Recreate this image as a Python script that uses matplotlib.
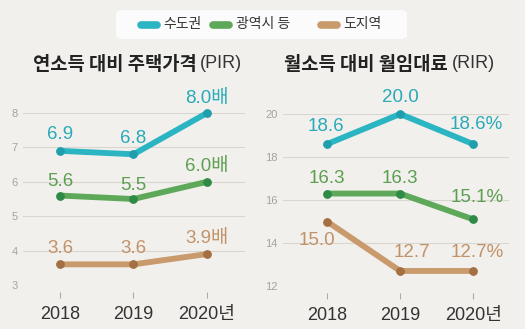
import matplotlib.pyplot as plt
from matplotlib.lines import Line2D
from matplotlib.patches import FancyBboxPatch

# 데이터
years = [2018, 2019, 2020]
year_labels = ['2018', '2019', '2020년']
groups = ['수도권', '광역시 등', '도지역']

pir_capital = [6.9, 6.8, 8.0]
pir_metro = [5.6, 5.5, 6.0]
pir_province = [3.6, 3.6, 3.9]

rir_capital = [18.6, 20.0, 18.6]
rir_metro = [16.3, 16.3, 15.1]
rir_province = [15.0, 12.7, 12.7]

bg = '#f2f0ec'
line_colors = ['#2bb5c3', '#5ea959', '#c89a6c']
dot_colors = ['#1f9eae', '#2f8a47', '#a46f42']
text_colors = ['#28aab8', '#5c9f52', '#c1926a']

num_font = ['Liberation Sans', 'Noto Sans CJK KR']
kr_font = ['Noto Sans CJK KR', 'DejaVu Sans']

W, H = 525, 329
fig = plt.figure(figsize=(W / 100, H / 100), dpi=100)
fig.patch.set_facecolor(bg)


def px(x, y):
    return x / W, 1 - y / H


def make_axes(left, right, top, bottom):
    x0, y0 = px(left, bottom)
    x1, y1 = px(right, top)
    ax = fig.add_axes([x0, y0, x1 - x0, y1 - y0])
    ax.set_facecolor('none')
    for s in ax.spines.values():
        s.set_visible(False)
    ax.spines['bottom'].set_position(('outward', 5))
    ax.grid(axis='y', color='#d9d6d0', linewidth=0.8)
    ax.set_axisbelow(True)
    ax.tick_params(axis='y', length=0, pad=4, labelsize=8, labelcolor='#a3a3a3')
    ax.tick_params(axis='x', length=4, width=0.8, color='#aaaaaa', pad=6,
                   labelsize=13, labelcolor='#333333')
    ax.set_xticks(years)
    ax.set_xticklabels(year_labels, family=num_font)
    return ax


def draw_series(ax, series, labels, offsets):
    for i, vals in enumerate(series):
        ax.plot(years, vals, color=line_colors[i], linewidth=4.2,
                solid_capstyle='round', zorder=3, clip_on=False)
        ax.scatter(years, vals, s=28, color=dot_colors[i], zorder=4, clip_on=False)
        for j, v in enumerate(vals):
            dx, dy = offsets[i][j]
            ax.annotate(labels[i][j], (years[j], v), xytext=(dx * 0.72, dy * 0.72),
                        textcoords='offset points', ha='center', va='center',
                        fontsize=13.5, color=text_colors[i], family=num_font,
                        annotation_clip=False, zorder=5)


# 왼쪽: PIR
ax1 = make_axes(23, 245, 113, 285)
ax1.set_xlim(2017.497, 2020.517)
ax1.set_ylim(3, 8)
ax1.set_yticks([3, 4, 5, 6, 7, 8])
for lab in ax1.get_yticklabels():
    lab.set_family(num_font)
pir_labels = [[f'{v:.1f}' for v in s] for s in (pir_capital, pir_metro, pir_province)]
for s in pir_labels:
    s[-1] += '배'
draw_series(ax1, [pir_capital, pir_metro, pir_province], pir_labels,
            [[(0, 16), (0, 16), (0, 15)],
             [(0, 14), (0, 14), (0, 15)],
             [(0, 16), (0, 16), (0, 16)]])

# 오른쪽: RIR
ax2 = make_axes(283, 509, 114, 286)
ax2.set_xlim(2017.397, 2020.49)
ax2.set_ylim(12, 20)
ax2.set_yticks([12, 14, 16, 18, 20])
for lab in ax2.get_yticklabels():
    lab.set_family(num_font)
rir_labels = [[f'{v:.1f}' for v in s] for s in (rir_capital, rir_metro, rir_province)]
for s in rir_labels:
    s[-1] += '%'
draw_series(ax2, [rir_capital, rir_metro, rir_province], rir_labels,
            [[(-1, 18), (0, 16), (3, 20)],
             [(0, 15), (0, 15), (4, 22)],
             [(-10, -19), (12, 18), (4, 18)]])

# 제목
fig.text(*px(197, 64), '연소득 대비 주택가격', ha='right', va='center',
         fontsize=13.5, fontweight='bold', color='#222222', family=kr_font)
fig.text(*px(200, 64), '(PIR)', ha='left', va='center',
         fontsize=13, color='#333333', family=num_font)
fig.text(*px(448, 64), '월소득 대비 월임대료', ha='right', va='center',
         fontsize=13.5, fontweight='bold', color='#222222', family=kr_font)
fig.text(*px(452, 64), '(RIR)', ha='left', va='center',
         fontsize=13, color='#333333', family=num_font)

# 범례
x0, y0 = px(116, 39)
x1, y1 = px(407, 10)
fig.patches.append(FancyBboxPatch((x0, y0), x1 - x0, y1 - y0,
                                  boxstyle='round,pad=0,rounding_size=0.012',
                                  transform=fig.transFigure, facecolor='white',
                                  edgecolor='none', alpha=0.8))
legend_pos = [(141, 157, 163), (213, 229, 236), (321, 337, 343)]
for i, (a, b, t) in enumerate(legend_pos):
    xa, ya = px(a, 25)
    xb, _ = px(b, 25)
    fig.add_artist(Line2D([xa, xb], [ya, ya], transform=fig.transFigure,
                          color=line_colors[i], linewidth=5.5, solid_capstyle='round'))
    fig.text(*px(t, 24), groups[i], ha='left', va='center', fontsize=10,
             color='#333333', family=kr_font)

fig.savefig('out.png', dpi=100, facecolor=bg)
